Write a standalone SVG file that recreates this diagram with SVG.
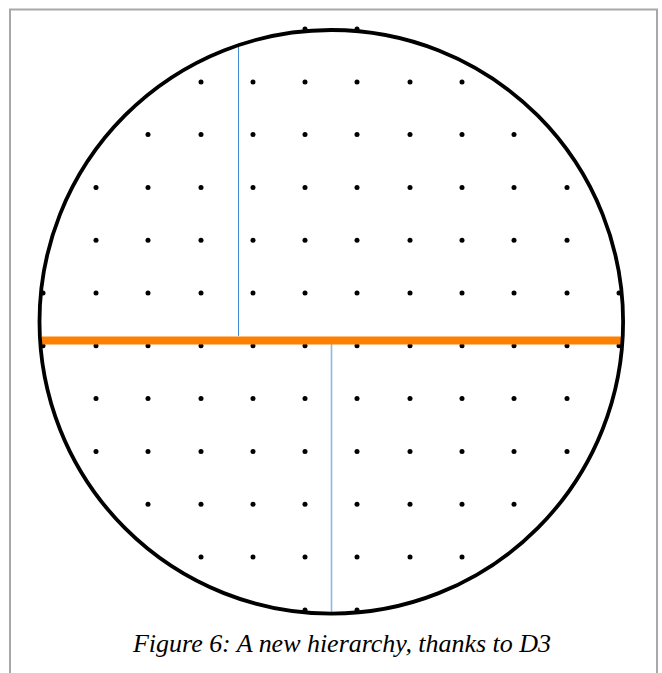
<svg xmlns="http://www.w3.org/2000/svg" width="662" height="673" viewBox="0 0 662 673">
<style>
.frame{fill:none;stroke:#a8a8a8;stroke-width:2}
.ring{fill:none;stroke:#000;stroke-width:3.8}
.dot{fill:#000}
.cut{stroke:#ff8000;stroke-width:8;fill:none}
.b1{stroke:#3f8ad4;stroke-width:1;fill:none}
.b2{stroke:#8db8e4;stroke-width:1.6;fill:none}
.cap{font-family:"Liberation Serif","Times New Roman",serif;font-style:italic;font-size:26px;fill:#000}
</style>
<defs><circle id="d" r="2.5" class="dot"/></defs>
<rect class="frame" x="10" y="9.5" width="647" height="700"/>
<g id="dots">
<use href="#d" x="305" y="29"/><use href="#d" x="357" y="29"/>
<use href="#d" x="201" y="82"/><use href="#d" x="253" y="82"/><use href="#d" x="305" y="82"/><use href="#d" x="357" y="82"/><use href="#d" x="410" y="82"/><use href="#d" x="462" y="82"/>
<use href="#d" x="148" y="134.6"/><use href="#d" x="201" y="134.6"/><use href="#d" x="253" y="134.6"/><use href="#d" x="305" y="134.6"/><use href="#d" x="357" y="134.6"/><use href="#d" x="410" y="134.6"/><use href="#d" x="462" y="134.6"/><use href="#d" x="514" y="134.6"/>
<use href="#d" x="96" y="187.4"/><use href="#d" x="148" y="187.4"/><use href="#d" x="201" y="187.4"/><use href="#d" x="253" y="187.4"/><use href="#d" x="305" y="187.4"/><use href="#d" x="357" y="187.4"/><use href="#d" x="410" y="187.4"/><use href="#d" x="462" y="187.4"/><use href="#d" x="514" y="187.4"/><use href="#d" x="567" y="187.4"/>
<use href="#d" x="96" y="240.2"/><use href="#d" x="148" y="240.2"/><use href="#d" x="201" y="240.2"/><use href="#d" x="253" y="240.2"/><use href="#d" x="305" y="240.2"/><use href="#d" x="357" y="240.2"/><use href="#d" x="410" y="240.2"/><use href="#d" x="462" y="240.2"/><use href="#d" x="514" y="240.2"/><use href="#d" x="567" y="240.2"/>
<use href="#d" x="43" y="293"/><use href="#d" x="96" y="293"/><use href="#d" x="148" y="293"/><use href="#d" x="201" y="293"/><use href="#d" x="253" y="293"/><use href="#d" x="305" y="293"/><use href="#d" x="357" y="293"/><use href="#d" x="410" y="293"/><use href="#d" x="462" y="293"/><use href="#d" x="514" y="293"/><use href="#d" x="567" y="293"/><use href="#d" x="619" y="293"/>
<use href="#d" x="43" y="345.8"/><use href="#d" x="96" y="345.8"/><use href="#d" x="148" y="345.8"/><use href="#d" x="201" y="345.8"/><use href="#d" x="253" y="345.8"/><use href="#d" x="305" y="345.8"/><use href="#d" x="357" y="345.8"/><use href="#d" x="410" y="345.8"/><use href="#d" x="462" y="345.8"/><use href="#d" x="514" y="345.8"/><use href="#d" x="567" y="345.8"/><use href="#d" x="619" y="345.8"/>
<use href="#d" x="96" y="398.6"/><use href="#d" x="148" y="398.6"/><use href="#d" x="201" y="398.6"/><use href="#d" x="253" y="398.6"/><use href="#d" x="305" y="398.6"/><use href="#d" x="357" y="398.6"/><use href="#d" x="410" y="398.6"/><use href="#d" x="462" y="398.6"/><use href="#d" x="514" y="398.6"/><use href="#d" x="567" y="398.6"/>
<use href="#d" x="96" y="451.4"/><use href="#d" x="148" y="451.4"/><use href="#d" x="201" y="451.4"/><use href="#d" x="253" y="451.4"/><use href="#d" x="305" y="451.4"/><use href="#d" x="357" y="451.4"/><use href="#d" x="410" y="451.4"/><use href="#d" x="462" y="451.4"/><use href="#d" x="514" y="451.4"/><use href="#d" x="567" y="451.4"/>
<use href="#d" x="148" y="504.2"/><use href="#d" x="201" y="504.2"/><use href="#d" x="253" y="504.2"/><use href="#d" x="305" y="504.2"/><use href="#d" x="357" y="504.2"/><use href="#d" x="410" y="504.2"/><use href="#d" x="462" y="504.2"/><use href="#d" x="514" y="504.2"/>
<use href="#d" x="201" y="557"/><use href="#d" x="253" y="557"/><use href="#d" x="305" y="557"/><use href="#d" x="357" y="557"/><use href="#d" x="410" y="557"/><use href="#d" x="462" y="557"/>
<use href="#d" x="305" y="610"/><use href="#d" x="357" y="610"/>
</g>
<g id="connectors">
<line class="b1" x1="238.5" y1="45" x2="238.5" y2="336"/>
<line class="b2" x1="331.5" y1="344" x2="331.5" y2="613"/>
<line class="cut" x1="42" y1="340.5" x2="621" y2="340.5"/>
</g>
<circle id="outline" class="ring" cx="331.3" cy="321.8" r="291.8"/>
<text class="cap" x="133" y="652" textLength="418" lengthAdjust="spacing">Figure 6: A new hierarchy, thanks to D3</text>
</svg>
